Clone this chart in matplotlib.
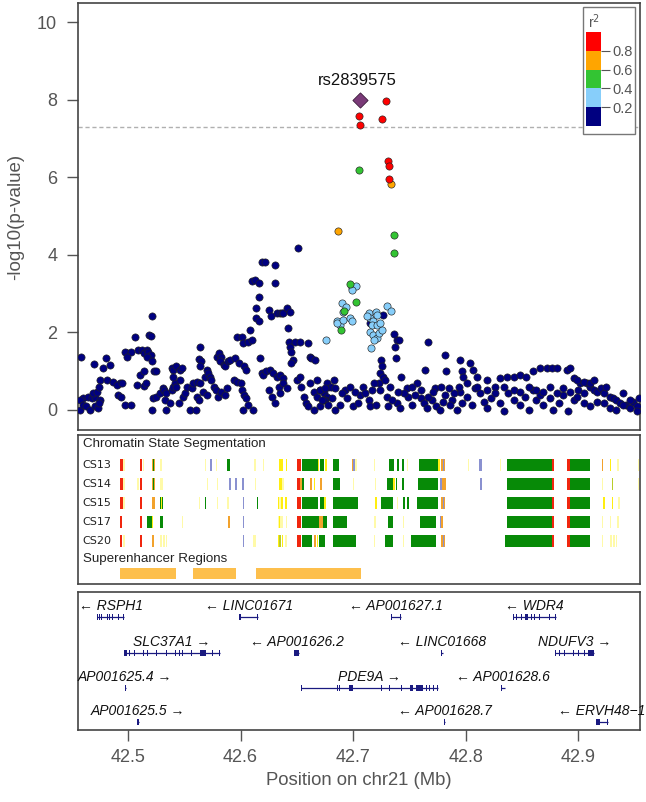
import matplotlib
matplotlib.use("Agg")
import matplotlib.pyplot as plt
from matplotlib.patches import Rectangle

plt.rcParams['font.family'] = ['Liberation Sans', 'DejaVu Sans']

# ---------------- data ----------------
X_RANGE = (42.4555, 42.955)
Y_RANGE = (-0.52, 10.49)
SIG_LINE = 7.3
LEAD_SNP = 'rs2839575'
LEAD_POS = 42.706
LEAD_LOGP = 7.99

navy_points = [
    (42.458,1.37),(42.457,0.00),(42.460,0.30),(42.464,0.34),(42.468,0.30),(42.471,0.34),(42.457,0.26),(42.460,0.13),
    (42.463,0.09),(42.466,0.00),(42.471,0.09),(42.473,0.04),(42.475,0.26),(42.469,0.43),(42.472,0.47),(42.474,0.17),
    (42.470,1.18),(42.475,0.77),(42.474,0.60),(42.480,1.33),(42.478,1.07),(42.484,1.16),(42.481,0.77),(42.487,0.73),
    (42.493,0.69),(42.490,0.64),(42.495,0.70),(42.491,0.39),(42.494,0.34),(42.499,1.46),(42.497,1.50),(42.503,1.48),
    (42.499,1.37),(42.497,0.13),(42.503,0.13),
    (42.506,1.89),(42.509,1.55),(42.512,1.55),(42.514,1.46),(42.517,1.55),(42.518,1.50),(42.520,1.42),(42.517,1.37),
    (42.521,1.25),(42.508,0.64),(42.514,0.62),(42.516,0.69),(42.511,0.90),(42.514,1.01),(42.519,1.93),(42.520,1.91),
    (42.521,2.41),(42.523,0.99),(42.525,0.99),(42.522,0.30),(42.521,0.00),(42.525,0.34),
    (42.528,0.43),(42.531,0.56),(42.532,0.52),(42.534,0.43),(42.533,0.26),(42.534,0.00),(42.537,0.17),(42.539,0.52),
    (42.540,0.60),(42.542,0.69),(42.543,0.60),(42.539,1.07),(42.540,1.03),(42.543,1.12),(42.546,1.03),(42.548,1.07),
    (42.540,0.86),(42.546,0.77),(42.545,0.17),(42.549,0.34),(42.551,0.43),
    (42.555,0.00),(42.560,0.00),(42.561,0.34),(42.563,0.26),(42.552,0.60),(42.557,0.56),(42.558,0.69),(42.561,0.73),
    (42.564,0.69),(42.564,1.63),(42.563,1.31),(42.565,1.25),(42.564,1.12),(42.568,0.86),(42.570,1.03),(42.571,0.95),
    (42.573,0.86),(42.574,0.77),(42.567,0.47),(42.570,0.39),(42.576,0.60),(42.578,0.52),(42.580,0.34),(42.583,0.47),
    (42.586,0.39),(42.588,0.56),
    (42.579,1.37),(42.581,1.46),(42.583,1.37),(42.582,1.25),(42.585,1.16),(42.586,1.12),(42.589,1.25),(42.591,1.29),
    (42.594,0.77),(42.597,0.73),(42.600,0.69),(42.601,0.52),(42.603,0.39),(42.605,0.30),(42.607,0.13),(42.602,0.00),
    (42.611,0.00),
    (42.597,1.89),(42.601,1.89),(42.602,1.72),(42.607,1.76),(42.608,2.06),(42.610,1.80),(42.595,1.33),(42.599,1.20),
    (42.603,1.12),(42.605,1.03),
    (42.610,3.31),(42.613,3.35),(42.616,3.28),(42.616,2.92),(42.614,2.62),(42.614,2.36),(42.616,2.28),(42.619,3.82),
    (42.622,3.82),(42.617,1.33),(42.619,0.95),(42.620,0.90),
    (42.625,2.58),(42.627,2.41),(42.631,3.74),(42.631,3.28),(42.632,2.49),(42.635,2.51),(42.637,2.49),(42.638,2.49),
    (42.641,2.62),(42.644,2.53),(42.642,2.10),
    (42.623,0.99),(42.626,1.03),(42.629,0.95),(42.632,0.86),(42.635,0.90),(42.638,0.82),(42.625,0.52),(42.628,0.34),
    (42.631,0.17),(42.634,0.60),(42.635,0.43),(42.638,0.69),(42.641,0.56),
    (42.643,1.76),(42.644,1.63),(42.645,1.50),(42.647,1.29),(42.645,1.20),(42.648,1.76),(42.653,1.76),(42.651,4.17),
    (42.650,0.77),(42.653,0.86),(42.654,0.60),(42.656,0.34),(42.658,0.17),(42.660,0.09),(42.665,0.00),(42.660,1.72),
    (42.662,1.37),(42.663,1.33),(42.666,1.29),(42.668,0.77),(42.671,0.52),(42.674,0.43),(42.677,0.34),
    (42.662,0.69),(42.665,0.47),(42.668,0.34),(42.671,0.09),(42.675,0.26),(42.678,0.60),
    (42.727,2.45),(42.715,2.25),
    (42.736,1.95),(42.739,1.80),(42.741,1.79),(42.737,1.63),(42.738,1.33),(42.725,1.29),(42.726,1.12),(42.724,0.95),
    (42.727,0.86),
    (42.767,1.74),(42.782,1.42),(42.795,1.29),(42.804,1.20),(42.797,0.99),(42.798,0.86),(42.807,1.03),(42.810,0.86),
    (42.819,0.77),(42.831,0.82),(42.837,0.86),(42.843,0.86),(42.848,0.90),(42.854,0.86),(42.860,0.99),(42.866,1.07),
    (42.872,1.07),(42.877,1.07),(42.881,1.07),(42.890,1.03),(42.893,1.07),(42.764,1.03),(42.783,0.99),
    (42.671,0.52),(42.674,0.26),(42.677,0.69),(42.680,0.60),(42.683,0.77),(42.684,0.56),(42.678,0.13),(42.684,0.00),
    (42.693,0.52),(42.700,0.09),(42.706,0.39),(42.714,0.26),(42.715,0.09),(42.723,0.69),(42.724,0.52),(42.730,0.34),
    (42.731,0.09),(42.739,0.17),(42.743,0.86),(42.748,0.56),(42.749,0.34),(42.752,0.13),(42.757,0.69),(42.760,0.30),
    (42.763,0.17),(42.766,0.04),(42.770,0.26),(42.773,0.56),(42.774,0.09),(42.777,0.00),(42.782,0.39),(42.785,0.56),
    (42.788,0.26),(42.792,0.00),(42.795,0.47),(42.801,0.34),(42.806,0.13),(42.808,0.56),(42.813,0.43),(42.816,0.21),
    (42.819,0.04),(42.823,0.30),(42.826,0.60),(42.831,0.17),(42.834,-0.04),(42.838,0.43),(42.843,0.26),(42.848,0.13),
    (42.853,0.34),(42.856,0.00),(42.860,0.52),(42.863,0.26),(42.866,0.39),(42.869,0.13),(42.875,0.30),(42.878,0.00),
    (42.883,0.17),(42.887,0.39),(42.891,-0.04),(42.896,0.26),(42.900,0.52),(42.902,0.69),(42.905,0.43),(42.908,0.69),
    (42.911,0.60),(42.914,0.52),(42.917,0.47),(42.920,0.56),(42.923,0.43),(42.925,0.60),(42.928,0.34),(42.931,0.30),
    (42.934,0.26),(42.937,0.17),(42.940,0.43),(42.943,0.13),(42.946,0.04),(42.949,0.21),(42.952,0.09),(42.954,0.30),
    (42.899,0.34),(42.905,0.17),(42.911,0.09),(42.917,0.21),(42.923,0.17),(42.928,0.04),(42.934,0.00),(42.940,0.13),
    (42.946,0.26),(42.952,-0.04),
    (42.801,0.69),(42.810,0.60),(42.819,0.52),(42.826,0.43),(42.834,0.60),(42.843,0.52),(42.848,0.47),(42.856,0.60),
    (42.863,0.52),(42.869,0.47),(42.875,0.60),(42.881,0.43),(42.887,0.56),(42.893,0.47),(42.896,0.82),(42.899,0.77),
    (42.905,0.73),(42.911,0.69),(42.914,0.77),
    (42.745,0.43),(42.752,0.60),(42.755,0.39),(42.760,0.52),(42.767,0.34),(42.771,0.47),(42.778,0.60),(42.780,0.21),
    (42.786,0.13),(42.790,0.43),(42.794,0.60),(42.797,0.17),
    (42.672,0.26),(42.675,0.56),(42.681,0.30),(42.688,0.13),(42.690,0.43),(42.695,0.30),(42.697,0.60),(42.702,0.47),
    (42.704,0.17),(42.709,0.60),(42.711,0.43),(42.717,0.52),(42.720,0.13),(42.719,0.69),(42.728,0.77),(42.733,0.60),
    (42.735,0.26),(42.740,0.47),(42.742,0.04),
]
lightblue_points = [
    (42.676,1.80),(42.699,3.14),(42.703,3.20),(42.699,3.08),(42.690,2.75),(42.694,2.66),(42.691,2.53),(42.686,2.28),
    (42.688,2.19),(42.686,2.23),(42.691,2.32),(42.697,2.36),(42.699,2.29),
    (42.714,2.49),(42.715,2.36),(42.718,2.28),(42.720,2.53),(42.721,2.45),(42.717,2.19),(42.721,2.19),(42.715,2.02),
    (42.718,1.93),(42.721,1.85),(42.723,1.98),(42.726,2.06),(42.719,1.80),(42.716,1.59),(42.730,2.68),(42.734,2.56),
    (42.712,2.41),(42.724,2.25),
]
green_points = [(42.705,6.19),(42.736,4.51),(42.736,4.05),(42.697,3.24),(42.703,2.77),(42.692,2.56),(42.689,2.06)]
orange_points = [(42.734,5.82),(42.687,4.61)]
red_points = [(42.729,7.96),(42.705,7.59),(42.726,7.50),(42.706,7.35),(42.731,6.43),(42.732,6.30),(42.732,5.95)]

ld_bins = [0.0, 0.2, 0.4, 0.6, 0.8]
ld_colors = ['#000080', '#87CEFA', '#33C433', '#FFA500', '#FF0000']
ld_ticks = [0.2, 0.4, 0.6, 0.8]

# chromatin states: (start Mb, end Mb, state)
state_colors = {'R': '#F0260E', 'O': '#F2A22C', 'Y': '#FFEE10', 'y': '#FFFAA8',
                'G': '#078A07', 'L': '#8A91D0', 'E': '#B9CC2A'}
chrom_rows = ['CS13', 'CS14', 'CS15', 'CS17', 'CS20']
cs13 = [(42.4929,42.4956,'R'),(42.4958,42.4970,'y'),(42.5105,42.5125,'R'),(42.5130,42.5140,'y'),
        (42.5210,42.5240,'O'),(42.5222,42.5228,'G'),(42.5284,42.5302,'y'),(42.5684,42.5695,'y'),
        (42.5729,42.5745,'L'),(42.5780,42.5790,'y'),(42.5880,42.5905,'G'),(42.6120,42.6135,'y'),
        (42.6200,42.6210,'y'),(42.6342,42.6378,'Y'),(42.6404,42.6415,'Y'),(42.6502,42.6538,'R'),
        (42.6547,42.6689,'G'),(42.6689,42.6700,'Y'),(42.6705,42.6745,'G'),(42.6750,42.6765,'Y'),
        (42.6822,42.6876,'G'),(42.6991,42.7000,'O'),(42.7002,42.7008,'L'),(42.7020,42.7030,'y'),
        (42.7187,42.7195,'y'),(42.7320,42.7364,'G'),(42.7391,42.7409,'G'),(42.7436,42.7453,'G'),
        (42.7480,42.7488,'y'),(42.7587,42.7756,'G'),(42.7756,42.7770,'Y'),(42.7782,42.7818,'O'),
        (42.7795,42.7800,'L'),(42.8022,42.8028,'y'),(42.8120,42.8147,'L'),(42.8307,42.8315,'y'),
        (42.8369,42.8769,'G'),(42.8769,42.8787,'R'),(42.8902,42.8929,'R'),(42.8929,42.9107,'G'),
        (42.9213,42.9225,'O'),(42.9284,42.9295,'Y'),(42.9347,42.9356,'y'),(42.9530,42.9538,'y')]
cs14 = [(42.4929,42.4956,'R'),(42.4958,42.4970,'y'),(42.5080,42.5100,'y'),(42.5105,42.5125,'R'),
        (42.5210,42.5240,'O'),(42.5222,42.5228,'G'),(42.5284,42.5310,'y'),(42.5700,42.5708,'y'),
        (42.5790,42.5798,'y'),(42.5900,42.5910,'L'),(42.5955,42.5965,'L'),(42.6015,42.6025,'L'),
        (42.6125,42.6135,'y'),(42.6342,42.6365,'Y'),(42.6365,42.6390,'y'),(42.6502,42.6530,'R'),
        (42.6530,42.6540,'O'),(42.6547,42.6560,'G'),(42.6620,42.6635,'O'),(42.6650,42.6665,'Y'),
        (42.6705,42.6720,'O'),(42.6822,42.6880,'G'),(42.7000,42.7008,'y'),(42.7195,42.7203,'y'),
        (42.7300,42.7355,'G'),(42.7355,42.7375,'Y'),(42.7380,42.7392,'G'),(42.7436,42.7450,'G'),
        (42.7580,42.7755,'G'),(42.7773,42.7790,'L'),(42.7790,42.7826,'O'),(42.8130,42.8136,'L'),
        (42.8369,42.8769,'G'),(42.8769,42.8787,'R'),(42.8902,42.8929,'R'),(42.8929,42.9107,'G'),
        (42.9213,42.9222,'y'),(42.9297,42.9305,'E'),(42.9533,42.9540,'y')]
cs15 = [(42.4929,42.4956,'R'),(42.4958,42.4970,'y'),(42.5105,42.5125,'R'),(42.5213,42.5240,'O'),
        (42.5285,42.5295,'G'),(42.5295,42.5303,'Y'),(42.5303,42.5312,'G'),(42.5630,42.5638,'y'),
        (42.5684,42.5697,'G'),(42.5790,42.5797,'y'),(42.5880,42.5898,'y'),(42.6020,42.6030,'L'),
        (42.6147,42.6157,'G'),(42.6330,42.6345,'Y'),(42.6345,42.6360,'y'),(42.6362,42.6380,'Y'),
        (42.6395,42.6410,'Y'),(42.6502,42.6538,'R'),(42.6547,42.6689,'G'),(42.6705,42.6745,'G'),
        (42.6745,42.6760,'Y'),(42.6822,42.7045,'G'),(42.7195,42.7213,'Y'),(42.7250,42.7355,'G'),
        (42.7390,42.7400,'y'),(42.7445,42.7460,'G'),(42.7480,42.7495,'G'),(42.7570,42.7755,'G'),
        (42.7782,42.7818,'O'),(42.7795,42.7800,'L'),(42.8369,42.8769,'G'),(42.8769,42.8787,'R'),
        (42.8902,42.8925,'R'),(42.8925,42.9107,'G'),(42.9220,42.9240,'Y'),(42.9302,42.9312,'Y'),
        (42.9356,42.9362,'y')]
cs17 = [(42.4929,42.4947,'R'),(42.5105,42.5125,'R'),(42.5169,42.5213,'G'),(42.5213,42.5222,'Y'),
        (42.5280,42.5310,'G'),(42.5480,42.5488,'y'),(42.5890,42.5898,'O'),(42.6020,42.6028,'L'),
        (42.6330,42.6380,'y'),(42.6340,42.6350,'Y'),(42.6400,42.6410,'y'),(42.6502,42.6538,'R'),
        (42.6547,42.6700,'G'),(42.6700,42.6733,'O'),(42.6733,42.6770,'G'),(42.6822,42.6947,'G'),
        (42.7190,42.7198,'y'),(42.7310,42.7355,'G'),(42.7440,42.7448,'y'),(42.7596,42.7738,'G'),
        (42.7773,42.7782,'L'),(42.7782,42.7800,'O'),(42.8369,42.8769,'G'),(42.8769,42.8787,'R'),
        (42.8902,42.8925,'R'),(42.8925,42.9107,'G'),(42.9213,42.9220,'y'),(42.9284,42.9292,'y'),
        (42.9350,42.9356,'y')]
cs20 = [(42.4929,42.4947,'R'),(42.4956,42.4975,'y'),(42.5105,42.5125,'R'),(42.5213,42.5235,'O'),
        (42.5284,42.5300,'y'),(42.5310,42.5330,'y'),(42.5338,42.5347,'y'),(42.6020,42.6035,'L'),
        (42.6115,42.6135,'y'),(42.6330,42.6345,'Y'),(42.6345,42.6360,'E'),(42.6365,42.6378,'Y'),
        (42.6395,42.6410,'y'),(42.6502,42.6538,'R'),(42.6547,42.6636,'G'),(42.6650,42.6670,'O'),
        (42.6675,42.6690,'Y'),(42.6700,42.6750,'G'),(42.6822,42.7027,'G'),(42.7187,42.7195,'y'),
        (42.7284,42.7355,'G'),(42.7440,42.7448,'y'),(42.7516,42.7738,'G'),(42.7782,42.7818,'O'),
        (42.7795,42.7800,'L'),(42.8350,42.8769,'G'),(42.8769,42.8787,'R'),(42.8902,42.8925,'R'),
        (42.8925,42.9107,'G'),(42.9213,42.9220,'y'),(42.9284,42.9300,'y'),(42.9310,42.9325,'y'),
        (42.9335,42.9350,'y')]
chrom_segments = [cs13, cs14, cs15, cs17, cs20]

superenhancers = [(42.4929, 42.5427), (42.5578, 42.5960), (42.6138, 42.7071)]

gene_names = ['RSPH1', 'LINC01671', 'AP001627.1', 'WDR4',
              'SLC37A1', 'AP001626.2', 'LINC01668', 'NDUFV3',
              'AP001625.4', 'PDE9A', 'AP001628.6',
              'AP001625.5', 'AP001628.7', 'ERVH48\u22121']
gene_strand = ['-', '-', '-', '-', '+', '-', '-', '+', '+', '+', '-', '+', '-', '-']
gene_row = [0, 0, 0, 0, 1, 1, 1, 1, 2, 2, 2, 3, 3, 3]
gene_exons = [
    [(42.4722,42.4730),(42.4740,42.4748),(42.4760,42.4768),(42.4811,42.4819),(42.4834,42.4842),(42.4858,42.4866),(42.4908,42.4916),(42.4959,42.4967)],
    [(42.5987,42.6004),(42.6148,42.6156)],
    [(42.7335,42.7343),(42.7416,42.7424)],
    [(42.8422,42.8430),(42.8448,42.8456),(42.8492,42.8500),(42.8526,42.8556),(42.8581,42.8589),(42.8611,42.8619),(42.8656,42.8664),(42.8744,42.8752),(42.8799,42.8807)],
    [(42.4962,42.4988),(42.5008,42.5016),(42.5052,42.5060),(42.5131,42.5145),(42.5171,42.5179),(42.5245,42.5253),(42.5334,42.5342),(42.5378,42.5386),(42.5414,42.5422),(42.5452,42.5460),(42.5482,42.5490),(42.5556,42.5564),(42.5600,42.5608),(42.5640,42.5693),(42.5743,42.5751),(42.5778,42.5786),(42.5810,42.5818)],
    [(42.6476,42.6520)],
    [(42.7780,42.7788),(42.7795,42.7803)],
    [(42.8793,42.8801),(42.8833,42.8841),(42.8878,42.8886),(42.8952,42.8960),(42.8996,42.9004),(42.9056,42.9064),(42.9089,42.9142)],
    [(42.4970,42.4978)],
    [(42.6538,42.6546),(42.6860,42.6868),(42.6874,42.6882),(42.6964,42.6997),(42.7245,42.7253),(42.7322,42.7330),(42.7423,42.7431),(42.7504,42.7533),(42.7560,42.7622),(42.7645,42.7653),(42.7678,42.7686),(42.7707,42.7715),(42.7748,42.7756)],
    [(42.8313,42.8321),(42.8346,42.8354)],
    [(42.5083,42.5095)],
    [(42.7810,42.7820)],
    [(42.9160,42.9196),(42.9259,42.9267)],
]

x_ticks = [42.5, 42.6, 42.7, 42.8, 42.9]
y_ticks = [0, 2, 4, 6, 8, 10]

# ---------------- figure ----------------
GREY = '#555555'
FRAME = '#444444'
fig = plt.figure(figsize=(6.46, 8.02), dpi=100)
ax1 = fig.add_axes([0.1207, 0.4638, 0.8700, 0.5324])
ax2 = fig.add_axes([0.1207, 0.2718, 0.8700, 0.1858])
ax3 = fig.add_axes([0.1207, 0.0898, 0.8700, 0.1721])

for ax in (ax1, ax2, ax3):
    ax.set_xlim(*X_RANGE)
    for sp in ax.spines.values():
        sp.set_color(FRAME)
        sp.set_linewidth(1.2)

# --- association panel ---
ax1.axhline(SIG_LINE, color='#B0B0B0', ls=(0, (3, 2)), lw=1.0, zorder=1)
groups = [(navy_points, ld_colors[0]), (lightblue_points, ld_colors[1]),
          (green_points, ld_colors[2]), (orange_points, ld_colors[3]),
          (red_points, ld_colors[4])]
for pts, col in groups:
    xs = [p[0] for p in pts]
    ys = [p[1] for p in pts]
    ax1.scatter(xs, ys, s=27, c=col, edgecolors='#222222', linewidths=0.45, zorder=3)
ax1.scatter([LEAD_POS], [LEAD_LOGP], marker='D', s=60, c='#7A3A78',
            edgecolors='#3A1A3A', linewidths=0.6, zorder=5)
ax1.text(LEAD_POS - 0.002, LEAD_LOGP + 0.5, LEAD_SNP, ha='center', va='center',
         fontsize=12, color='#111111')
ax1.set_ylim(*Y_RANGE)
ax1.set_xticks([])
ax1.set_yticks(y_ticks)
ax1.tick_params(axis='y', length=8, width=1, color=GREY, labelcolor=GREY,
                labelsize=13, pad=7)
ax1.set_ylabel('-log10(p-value)', fontsize=13.5, color=GREY, labelpad=9)

# legend box
ax1.add_patch(Rectangle((0.8986, 0.693), 0.0925, 0.2974, transform=ax1.transAxes,
                        facecolor='white', edgecolor='#777777', lw=1.0, zorder=6))
cax = ax1.inset_axes([0.904, 0.712, 0.0267, 0.220])
cax.set_zorder(7)
for b, c in zip(ld_bins, ld_colors):
    cax.bar(0, 0.2, bottom=b, width=1.0, color=c)
cax.set_xlim(-0.5, 0.5)
cax.set_ylim(0, 1)
cax.set_xticks([])
cax.yaxis.tick_right()
cax.set_yticks(ld_ticks)
cax.set_yticklabels([f'{t:.1f}' for t in ld_ticks])
cax.tick_params(axis='y', length=6.5, width=0.8, color=GREY, labelcolor=GREY,
                labelsize=10.5, pad=2)
for sp in cax.spines.values():
    sp.set_visible(False)
cax.set_title('r$^2$', fontsize=10, color=GREY, pad=3)

# --- chromatin panel ---
ax2.set_ylim(149, 0)
ax2.set_xticks([])
ax2.set_yticks([])
row_y = [30, 48.5, 68, 87, 106]
for name, segs, yc in zip(chrom_rows, chrom_segments, row_y):
    for s, e, st in segs:
        w = max(e - s, 0.0012)
        ax2.broken_barh([(s, w)], (yc - 6, 12), facecolors=state_colors[st], edgecolor='none')
    ax2.text(0.008, yc, name, transform=ax2.get_yaxis_transform(), ha='left', va='center',
             fontsize=8, family='DejaVu Sans', color='#222222')
ax2.text(0.009, 9, 'Chromatin State Segmentation', transform=ax2.get_yaxis_transform(),
         ha='left', va='center', fontsize=9.6, color='#222222')
ax2.text(0.009, 124, 'Superenhancer Regions', transform=ax2.get_yaxis_transform(),
         ha='left', va='center', fontsize=9.6, color='#222222')
for s, e in superenhancers:
    ax2.broken_barh([(s, e - s)], (133, 11), facecolors='#FDBF4C', edgecolor='none')

# --- gene panel ---
ax3.set_ylim(138, 0)
ax3.set_yticks([])
bar_y = [25, 61, 96, 130]
NAVY = '#1A1A80'
for name, strand, row, exons in zip(gene_names, gene_strand, gene_row, gene_exons):
    yb = bar_y[row]
    g0 = min(e[0] for e in exons)
    g1 = max(e[1] for e in exons)
    ax3.plot([g0, g1], [yb, yb], color=NAVY, lw=0.9, solid_capstyle='butt')
    for s, e in exons:
        ax3.add_patch(Rectangle((s, yb - 3), e - s, 6, facecolor=NAVY, edgecolor='none'))
    label = f'\u2190 {name}' if strand == '-' else f'{name} \u2192'
    ax3.text((g0 + g1) / 2, yb - 10.5, label, ha='center', va='center',
             fontsize=10, style='italic', color='#111111')
ax3.set_xticks(x_ticks)
ax3.set_xticklabels([f'{t:.1f}' for t in x_ticks])
ax3.tick_params(axis='x', length=8, width=1, color=GREY, labelcolor=GREY,
                labelsize=13, pad=6)
ax3.set_xlabel('Position on chr21 (Mb)', fontsize=13.3, color=GREY, labelpad=4)

fig.savefig('out.png', dpi=100)
